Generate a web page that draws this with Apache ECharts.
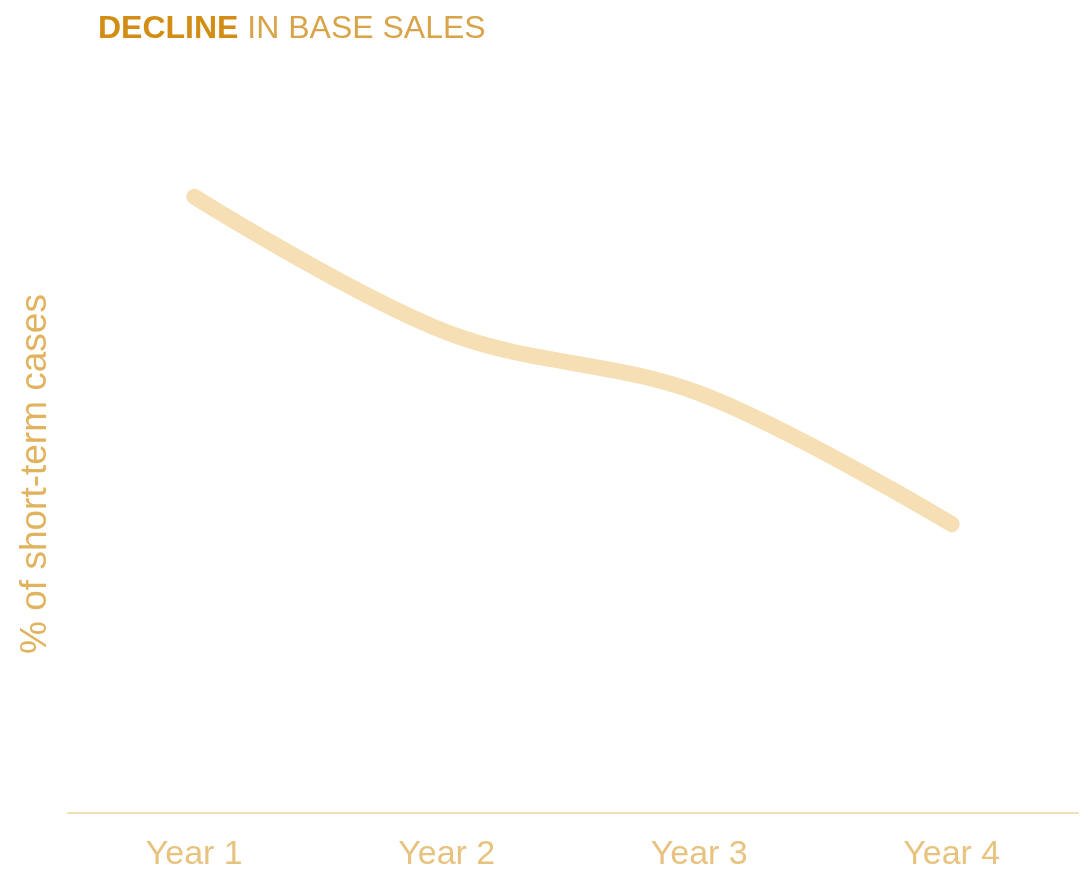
<!DOCTYPE html>
<html>
<head>
<meta charset="utf-8">
<script src="https://cdn.jsdelivr.net/npm/echarts@6/dist/echarts.min.js"></script>
<style>
  html, body { margin: 0; padding: 0; background: #fff; }
  #main { width: 1089px; height: 871px; }
</style>
</head>
<body>
<div id="main"></div>
<script>
// data
const years = ['Year 1', 'Year 2', 'Year 3', 'Year 4'];
const shortTermShare = [90.9, 70.9, 61.9, 42.6];

const chart = echarts.init(document.getElementById('main'));
const option = {
  backgroundColor: '#fff',
  title: {
    text: '{b|DECLINE} IN BASE SALES',
    left: 93,
    top: 8,
    textStyle: {
      fontFamily: 'Liberation Sans',
      fontSize: 32,
      fontWeight: 'normal',
      color: '#D9A449',
      rich: {
        b: { fontFamily: 'Liberation Sans', fontSize: 32, fontWeight: 'bold', color: '#D28E14' }
      }
    }
  },
  grid: { left: 68, right: 11, top: 135, bottom: 58, outerBoundsMode: 'none' },
  xAxis: {
    type: 'category',
    data: years,
    boundaryGap: true,
    axisLine: { lineStyle: { color: '#F1DDB6', width: 2 } },
    axisTick: { show: false },
    axisLabel: {
      margin: 25,
      fontFamily: 'Liberation Sans',
      fontSize: 34,
      color: '#E8C27F'
    }
  },
  yAxis: {
    type: 'value',
    min: 0,
    max: 100,
    name: '% of short-term cases',
    nameLocation: 'middle',
    nameGap: 14,
    nameTextStyle: {
      fontFamily: 'Liberation Sans',
      fontSize: 37,
      color: '#E2B35E'
    },
    axisLine: { show: false },
    axisTick: { show: false },
    axisLabel: { show: false },
    splitLine: { show: false }
  },
  series: [{
    type: 'line',
    data: shortTermShare,
    smooth: 0.35,
    symbol: 'none',
    lineStyle: { color: '#F6DFB4', width: 16, cap: 'round', join: 'round' }
  }]
};
chart.setOption(option);
</script>
</body>
</html>
